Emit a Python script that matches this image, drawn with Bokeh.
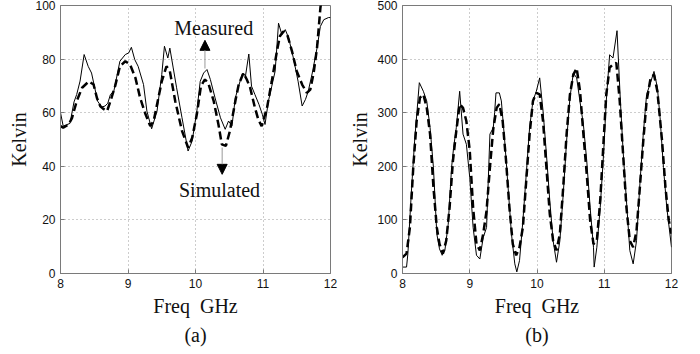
from bokeh.plotting import figure
from bokeh.layouts import row
from bokeh.models import Range1d, FixedTicker, Title, Label, Arrow, NormalHead
from bokeh.embed import file_html
from bokeh.resources import INLINE

# ---------------- data ----------------
freq_a_meas = [8.00, 8.04, 8.09, 8.14, 8.20, 8.24, 8.29, 8.35, 8.41, 8.46, 8.55, 8.61, 8.66, 8.70,
               8.74, 8.79, 8.84, 8.88, 8.96, 9.01, 9.05, 9.10, 9.15, 9.23, 9.28, 9.35, 9.43, 9.50,
               9.54, 9.59, 9.62, 9.67, 9.72, 9.80, 9.89, 9.95, 10.02, 10.07, 10.12, 10.17, 10.22,
               10.29, 10.37, 10.44, 10.49, 10.54, 10.59, 10.64, 10.69, 10.71, 10.74, 10.79, 10.83,
               10.88, 10.94, 10.99, 11.03, 11.08, 11.13, 11.18, 11.23, 11.28, 11.33, 11.38, 11.45,
               11.52, 11.58, 11.63, 11.67, 11.73, 11.80, 11.85, 11.90, 11.97, 12.00]
kelvin_a_meas = [60.0, 55.0, 55.5, 56.0, 64.0, 66.8, 71.8, 81.7, 77.3, 74.8, 64.3, 62.1, 62.5, 63.5,
                 66.8, 68.0, 74.2, 79.2, 81.7, 82.3, 84.4, 79.8, 77.3, 70.5, 60.6, 54.0, 60.6, 74.2,
                 84.8, 80.4, 84.1, 76.7, 69.3, 58.1, 45.7, 49.4, 60.6, 71.7, 74.8, 76.1, 72.4,
                 65.5, 58.1, 53.8, 56.9, 55.0, 65.5, 70.0, 74.2, 74.8, 73.6, 81.9, 69.9,
                 66.8, 63.1, 59.4, 55.6, 64.3, 69.9, 75.5, 93.4, 89.1, 91.0, 87.9, 80.4,
                 71.7, 62.5, 65.0, 68.0, 74.8, 84.1, 92.2, 94.7, 95.5, 95.5]

freq_a_sim = [8.00, 8.04, 8.12, 8.17, 8.24, 8.32, 8.42, 8.49, 8.54, 8.59, 8.63, 8.69, 8.74, 8.81,
              8.88, 8.96, 9.03, 9.11, 9.18, 9.26, 9.33, 9.38, 9.50, 9.57, 9.62, 9.70, 9.80, 9.89,
              9.95, 10.02, 10.08, 10.14, 10.19, 10.27, 10.34, 10.39, 10.45, 10.51, 10.59, 10.64,
              10.71, 10.76, 10.81, 10.88, 10.93, 10.98, 11.06, 11.13, 11.21, 11.25, 11.30, 11.36,
              11.43, 11.50, 11.58, 11.65, 11.70, 11.75, 11.80, 11.85, 11.87]
kelvin_a_sim = [55.0, 54.4, 55.6, 58.0, 64.3, 69.3, 71.7, 70.5, 65.5, 62.4, 61.5, 60.6, 64.3, 70.0,
                77.3, 79.2, 78.0, 73.0, 65.5, 59.4, 55.0, 56.9, 71.7, 77.3, 75.5, 64.3, 53.2, 47.0,
                50.6, 59.4, 69.9, 72.4, 71.0, 64.3, 55.6, 48.2, 47.6, 53.2, 64.3, 70.5,
                74.8, 72.4, 69.3, 61.9, 57.5, 55.0, 61.9, 71.7, 83.5, 88.5, 90.3, 89.1,
                82.9, 75.5, 70.5, 67.4, 68.6, 74.8, 84.1, 99.0, 103.0]

freq_b_meas = [8.00, 8.06, 8.08, 8.13, 8.18, 8.25, 8.31, 8.36, 8.41, 8.46, 8.51, 8.55, 8.59, 8.63,
               8.68, 8.73, 8.76, 8.80, 8.85, 8.90, 8.95, 9.00, 9.05, 9.10, 9.15, 9.20, 9.25, 9.30,
               9.35, 9.37, 9.39, 9.44, 9.47, 9.52, 9.57, 9.62, 9.67, 9.70, 9.74, 9.79, 9.84, 9.89,
               9.94, 9.99, 10.04, 10.09, 10.14, 10.19, 10.24, 10.29, 10.34, 10.39, 10.44, 10.49,
               10.54, 10.59, 10.64, 10.69, 10.74, 10.79, 10.84, 10.85, 10.89, 10.94, 10.99, 11.03,
               11.08, 11.13, 11.19, 11.24, 11.28, 11.33, 11.38, 11.43, 11.48, 11.53, 11.58, 11.63,
               11.68, 11.74, 11.79, 11.83, 11.88, 11.93, 12.00]
kelvin_b_meas = [12, 12, 37, 148, 247, 356, 340, 322, 272, 198, 74, 46, 34, 43,
                 92, 198, 235, 272, 340, 260, 241, 179, 86, 34, 27, 67, 86, 260,
                 272, 300, 337, 337, 322, 247, 161, 74, 18, 3, 24, 98, 185, 272,
                 322, 340, 365, 303, 223, 136, 61, 21, 61, 148, 247, 328,
                 374, 365, 320, 278, 210, 123, 49, 12, 49, 123, 223, 322,
                 408, 402, 453, 322, 229, 136, 43, 18, 61, 167, 260, 334,
                 353, 377, 347, 291, 198, 123, 49]

freq_b_sim = [8.00, 8.06, 8.11, 8.16, 8.21, 8.26, 8.31, 8.36, 8.41, 8.46, 8.51, 8.55, 8.60, 8.65,
              8.70, 8.75, 8.80, 8.85, 8.90, 8.95, 9.00, 9.05, 9.10, 9.15, 9.20, 9.25, 9.30, 9.35,
              9.40, 9.44, 9.49, 9.54, 9.59, 9.64, 9.69, 9.74, 9.79, 9.84, 9.89, 9.94, 9.99, 10.04,
              10.09, 10.14, 10.19, 10.24, 10.29, 10.34, 10.39, 10.44, 10.49, 10.54, 10.59, 10.64,
              10.69, 10.74, 10.79, 10.84, 10.89, 10.94, 10.99, 11.03, 11.08, 11.13, 11.18, 11.23,
              11.28, 11.33, 11.38, 11.43, 11.48, 11.53, 11.58, 11.63, 11.69, 11.74, 11.79, 11.86,
              11.91, 11.96, 12.00]
kelvin_b_sim = [30, 37, 86, 198, 284, 328, 334, 310, 260, 161, 86, 55, 37, 61,
                123, 210, 266, 316, 309, 284, 229, 123, 55, 43, 74, 117, 198, 270,
                309, 316, 284, 210, 123, 55, 34, 49, 86, 173, 260, 322, 337, 334,
                284, 198, 111, 61, 43, 74, 161, 260, 334, 371, 383, 340,
                260, 185, 99, 55, 61, 136, 247, 334, 384, 390, 393, 322,
                223, 123, 61, 49, 80, 161, 247, 322, 365, 371, 340, 247,
                161, 99, 74]

x_ticks = [8, 9, 10, 11, 12]
y_ticks_a = [0, 20, 40, 60, 80, 100]
y_ticks_b = [0, 100, 200, 300, 400, 500]

# annotation positions (data units)
meas_text = (10.27, 91.6)
meas_arrow = (10.14, 76.5, 87.0)
sim_text = (10.356, 31.3)
sim_arrow = (10.395, 47.0, 37.0)

SERIF = "Liberation Serif"
SANS = "Liberation Sans"
AXIS_GRAY = "#7a7a7a"


def make_panel(width, yr, yticks, letter, border_left, border_right, label_standoff):
    p = figure(width=width, height=354, x_range=Range1d(8, 12), y_range=Range1d(*yr),
               output_backend="svg", toolbar_location=None,
               min_border_left=border_left, min_border_right=border_right,
               min_border_top=5, min_border_bottom=81)
    p.background_fill_color = "white"
    p.border_fill_color = "white"
    p.outline_line_color = AXIS_GRAY
    p.outline_line_width = 1
    for ax, ticks in ((p.xaxis[0], x_ticks), (p.yaxis[0], yticks)):
        ax.ticker = FixedTicker(ticks=ticks)
        ax.axis_line_color = AXIS_GRAY
        ax.major_tick_line_color = AXIS_GRAY
        ax.major_tick_in = 4
        ax.major_tick_out = 0
        ax.minor_tick_line_color = None
        ax.major_label_text_font = SANS
        ax.major_label_text_font_size = "12px"
        ax.major_label_text_color = "#111111"
        ax.major_label_standoff = 5
        ax.axis_label_text_font = SERIF
        ax.axis_label_text_font_size = "20px"
        ax.axis_label_text_font_style = "normal"
        ax.axis_label_text_color = "#111111"
        ax.axis_label_text_line_height = 1.0
    p.xaxis[0].axis_label = "Freq\u00a0\u00a0GHz"
    p.xaxis[0].axis_label_standoff = 4
    p.yaxis[0].axis_label = "Kelvin"
    p.yaxis[0].axis_label_standoff = label_standoff
    for g in (p.xgrid[0], p.ygrid[0]):
        g.grid_line_color = "#9a9a9a"
        g.grid_line_dash = "1 3"
        g.grid_line_width = 1
    p.xgrid[0].ticker = FixedTicker(ticks=x_ticks)
    p.ygrid[0].ticker = FixedTicker(ticks=yticks)
    t = Title(text=letter, align="center", text_font=SERIF, text_font_size="20px",
              text_font_style="normal", text_color="#111111", standoff=5)
    p.add_layout(t, "below")
    return p


pa = make_panel(345, (0, 100), y_ticks_a, "(a)", 60, 15, 2)
pa.line(freq_a_meas, kelvin_a_meas, line_color="black", line_width=1)
pa.line(freq_a_sim, kelvin_a_sim, line_color="black", line_width=2.5, line_dash="8 4")

pa.add_layout(Arrow(end=NormalHead(size=10, fill_color="black", line_color="black"),
                    x_start=meas_arrow[0], y_start=meas_arrow[1], x_end=meas_arrow[0], y_end=meas_arrow[2],
                    line_color="#999999", line_width=1))
pa.add_layout(Arrow(end=NormalHead(size=10, fill_color="black", line_color="black"),
                    x_start=sim_arrow[0], y_start=sim_arrow[1], x_end=sim_arrow[0], y_end=sim_arrow[2],
                    line_color="#999999", line_width=1))
pa.add_layout(Label(x=meas_text[0], y=meas_text[1], text="Measured", text_align="center",
                    text_baseline="alphabetic", text_font=SERIF, text_font_size="20px", text_color="#111111"))
pa.add_layout(Label(x=sim_text[0], y=sim_text[1], text="Simulated", text_align="center",
                    text_baseline="alphabetic", text_font=SERIF, text_font_size="20px", text_color="#111111"))

pb = make_panel(355, (0, 500), y_ticks_b, "(b)", 57, 29, 3)
pb.line(freq_b_meas, kelvin_b_meas, line_color="black", line_width=1)
pb.line(freq_b_sim, kelvin_b_sim, line_color="black", line_width=2.5, line_dash="8 4")

layout = row(pa, pb)

open("out.html", "w").write(file_html(layout, INLINE))
